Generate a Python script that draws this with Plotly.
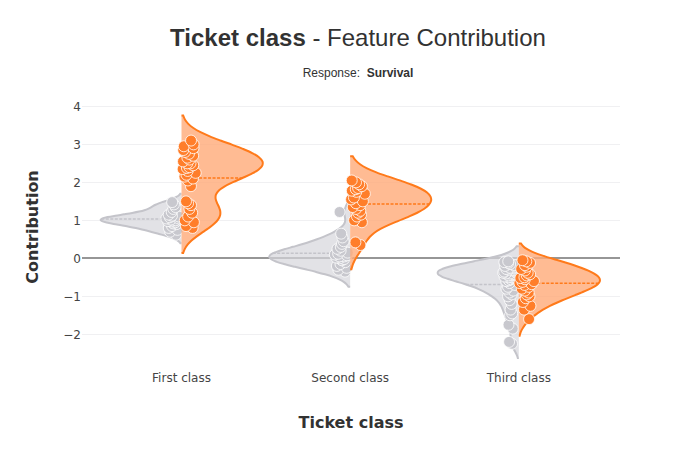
import plotly.graph_objects as go

categories = ["First class", "Second class", "Third class"]

# contributions, negative-side (grey) group
grey_first = [1.48, 1.42, 1.35, 1.3, 1.22, 1.15, 1.12, 1.1, 1.08, 1.05, 1.05, 1.02,
              1.0, 0.98, 0.97, 0.95, 0.92, 0.9, 0.85, 0.8, 0.75, 0.7, 0.62]
grey_second = [1.22, 0.65, 0.55, 0.45, 0.38, 0.3, 0.25, 0.2, 0.15, 0.12, 0.1, 0.08,
               0.05, 0.05, 0.02, 0.0, -0.02, -0.05, -0.1, -0.15, -0.2, -0.25, -0.3, -0.35]
grey_third = [-0.08, -0.1, -0.12, -0.15, -0.18, -0.2, -0.22, -0.25, -0.25, -0.28, -0.3,
              -0.3, -0.32, -0.35, -0.35, -0.38, -0.4, -0.4, -0.42, -0.45, -0.45, -0.48,
              -0.5, -0.5, -0.52, -0.55, -0.58, -0.6, -0.65, -0.7, -0.75, -0.8, -0.85,
              -0.9, -0.95, -1.0, -1.1, -1.2, -1.35, -1.45, -1.5, -1.75, -1.85, -2.2, -2.25]

# contributions, positive-side (orange) group
orange_first = [3.1, 3.0, 2.95, 2.9, 2.85, 2.8, 2.75, 2.7, 2.65, 2.6, 2.55, 2.5, 2.5,
                2.45, 2.4, 2.38, 2.35, 2.3, 2.25, 2.2, 2.15, 2.1, 2.05, 1.9,
                1.5, 1.45, 1.4, 1.3, 1.2, 1.1, 1.0, 0.95, 0.85, 0.8]
orange_second = [2.05, 2.0, 1.95, 1.9, 1.85, 1.82, 1.78, 1.75, 1.7, 1.6, 1.55, 1.5,
                 1.45, 1.4, 1.35, 1.3, 1.25, 1.2, 1.15, 1.1, 1.0, 0.95, 0.42, 0.35]
orange_third = [-0.05, -0.08, -0.12, -0.18, -0.22, -0.28, -0.32, -0.38, -0.42, -0.45,
                -0.5, -0.52, -0.55, -0.6, -0.62, -0.65, -0.68, -0.7, -0.75, -0.8,
                -0.85, -0.9, -0.95, -1.0, -1.05, -1.15, -1.25, -1.35, -1.6]

grey_groups = [grey_first, grey_second, grey_third]
orange_groups = [orange_first, orange_second, orange_third]
grey_bw = [0.11, 0.2, 0.2]
orange_bw = [0.33, 0.32, 0.22]

GREY_LINE = "rgb(196,196,202)"
GREY_FILL = "rgba(214,214,220,0.7)"
GREY_PT = "rgb(200,200,206)"
OR_LINE = "rgb(255,122,26)"
OR_FILL = "rgba(255,170,120,0.8)"
OR_PT = "rgb(255,126,42)"

fig = go.Figure()
for cat, vals, bw in zip(categories, grey_groups, grey_bw):
    fig.add_trace(go.Violin(
        x=[cat] * len(vals), y=vals, side="negative", width=0.96,
        bandwidth=bw, line=dict(color=GREY_LINE, width=2), fillcolor=GREY_FILL,
        points="all", pointpos=-0.1, jitter=0.1,
        marker=dict(color=GREY_PT, size=11, line=dict(color="white", width=0.8)),
        meanline=dict(visible=True, color=GREY_LINE, width=1.5),
        showlegend=False, hoverinfo="skip"))
for cat, vals, bw in zip(categories, orange_groups, orange_bw):
    fig.add_trace(go.Violin(
        x=[cat] * len(vals), y=vals, side="positive", width=0.96,
        bandwidth=bw, line=dict(color=OR_LINE, width=2), fillcolor=OR_FILL,
        points="all", pointpos=0.1, jitter=0.1,
        marker=dict(color=OR_PT, size=11, line=dict(color="white", width=0.8)),
        meanline=dict(visible=True, color=OR_LINE, width=1.5),
        showlegend=False, hoverinfo="skip"))

fig.update_layout(
    width=700, height=450,
    violinmode="overlay",
    plot_bgcolor="white", paper_bgcolor="white",
    margin=dict(l=74, r=88, t=87, b=99),
    title=dict(
        text="<b>Ticket class</b> - Feature Contribution<br>"
             "<span style='font-size: 12px;'>Response:&nbsp; <b>Survival</b></span>",
        x=0.5, xanchor="center", y=0.915, yanchor="top",
        font=dict(family="Liberation Sans, Arial", size=24, color="rgb(50,50,50)")),
    font=dict(family="Verdana, DejaVu Sans", size=12, color="#444"),
    xaxis=dict(
        type="category", range=[-0.59, 2.6], showgrid=False, zeroline=False,
        showline=False, ticks="", ticklabelstandoff=10,
        title=dict(text="<b>Ticket class</b>", standoff=32,
                   font=dict(family="Arial Black, DejaVu Sans", size=16, color="rgb(50,50,50)"))),
    yaxis=dict(
        range=[-2.65, 4.3], dtick=1, showgrid=True, gridcolor="rgb(240,240,242)",
        zeroline=True, zerolinecolor="rgb(150,150,150)", zerolinewidth=2,
        title=dict(text="<b>Contribution</b>", standoff=20,
                   font=dict(family="Arial Black, DejaVu Sans", size=16, color="rgb(50,50,50)"))),
)

fig.write_html("out.html")
